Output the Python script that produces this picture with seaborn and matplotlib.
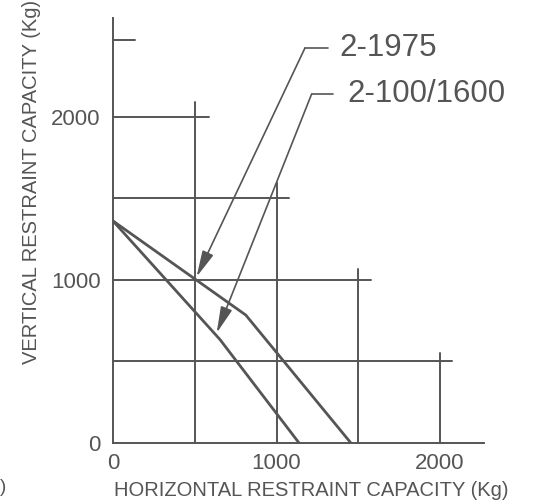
import numpy as np
import pandas as pd
import matplotlib
matplotlib.use("Agg")
import matplotlib.pyplot as plt
import seaborn as sns

# capacity curves (Kg)
x_1975 = [0, 812, 1455]
y_1975 = [1362, 785, 0]
x_1600 = [0, 654, 1138]
y_1600 = [1362, 635, 0]

# partial grid lines: horizontal at y, running from 0 to x_end
grid_h_y = [500, 1000, 1500, 2000, 2470]
grid_h_xend = [2074, 1580, 1077, 587, 135]
# vertical at x, running from 0 to y_end
grid_v_x = [500, 1000, 1500, 2000]
grid_v_yend = [2092, 1595, 1067, 552]

ticks = [0, 1000, 2000]
tick_labels = ["0", "1000", "2000"]

labels = ["2-1975", "2-100/1600"]
arrow_tip = [(511, 1019), (634, 675)]
arrow_corner = [(1174, 2423), (1215, 2141)]
leader_end = [1315, 1346]
text_x = [1382, 1431]

sns.set_theme(style="white")
plt.rcParams["font.family"] = ["Liberation Sans", "DejaVu Sans"]
ink = "#555555"

fig = plt.figure(figsize=(5.33, 5.0), dpi=100)
ax = fig.add_axes([113 / 533, 1 - 443 / 500, (484 - 113) / 533, (443 - 18) / 500])

for y, xe in zip(grid_h_y, grid_h_xend):
    ax.plot([0, xe], [y, y], color=ink, lw=1.4, clip_on=False)
for x, ye in zip(grid_v_x, grid_v_yend):
    ax.plot([x, x], [0, ye], color=ink, lw=1.4, clip_on=False)

df = pd.DataFrame({
    "h": x_1975 + x_1600,
    "v": y_1975 + y_1600,
    "model": [labels[0]] * len(x_1975) + [labels[1]] * len(x_1600),
})
sns.lineplot(data=df, x="h", y="v", units="model", estimator=None, sort=False,
             color=ink, lw=2.0, legend=False, ax=ax)

for lab, tip, corner, le, tx in zip(labels, arrow_tip, arrow_corner, leader_end, text_x):
    ax.plot([corner[0], le], [corner[1], corner[1]], color=ink, lw=1.2, clip_on=False)
    ax.annotate("", xy=tip, xytext=corner,
                arrowprops=dict(arrowstyle="-|>,head_length=0.8,head_width=0.18",
                                mutation_scale=20, color=ink, lw=1.2,
                                shrinkA=0, shrinkB=0))
    ax.text(tx, corner[1], lab, fontsize=22.5, color=ink, va="center", ha="left",
            clip_on=False)

ax.set_xlim(0, 2269)
ax.set_ylim(0, 2607)
ax.set_xlabel("")
ax.set_ylabel("")
ax.set_xticks(ticks)
ax.set_xticklabels(tick_labels)
ax.set_yticks(ticks)
ax.set_yticklabels(tick_labels)
ax.tick_params(axis="both", length=0, labelsize=16, labelcolor=ink)
ax.tick_params(axis="x", pad=7)
ax.tick_params(axis="y", pad=9)

for side in ["top", "right"]:
    ax.spines[side].set_visible(False)
for side in ["left", "bottom"]:
    ax.spines[side].set_color(ink)
    ax.spines[side].set_linewidth(1.4)

fig.text(311 / 533, 1 - 491 / 500, "HORIZONTAL RESTRAINT CAPACITY (Kg)",
         fontsize=14.5, color=ink, ha="center", va="center")
fig.text(32 / 533, 1 - 182 / 500, "VERTICAL RESTRAINT CAPACITY (Kg)",
         fontsize=14.5, color=ink, ha="center", va="center", rotation=90)
fig.text(0, 1 - 488 / 500, ")", fontsize=13.5, color=ink,
         ha="left", va="center")

fig.savefig("out.png", dpi=100)
